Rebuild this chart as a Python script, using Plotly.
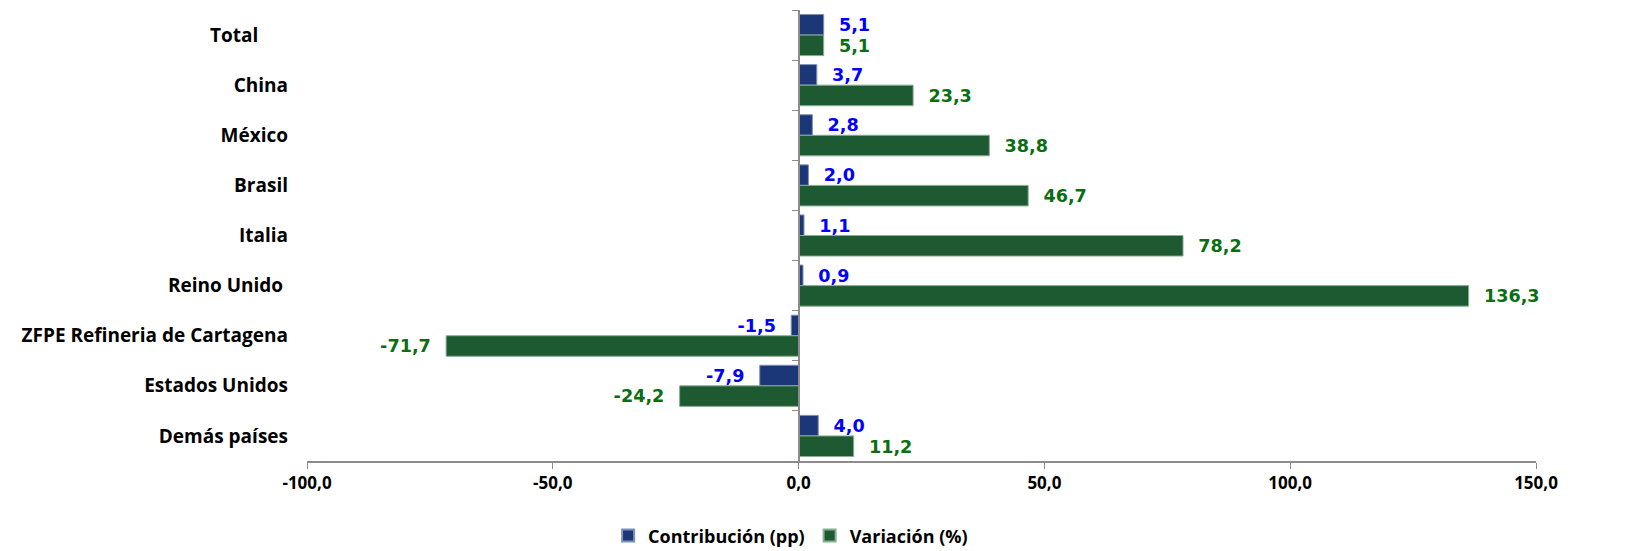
import plotly.graph_objects as go

categories = ["Total", "China", "México", "Brasil", "Italia", "Reino Unido",
              "ZFPE Refineria de Cartagena", "Estados Unidos", "Demás países"]
category_labels = ["Total\u00a0\u00a0\u00a0\u00a0\u00a0\u00a0", "China", "México", "Brasil", "Italia",
                   "Reino Unido\u00a0", "ZFPE Refineria de Cartagena", "Estados Unidos", "Demás países"]
contribucion = [5.1, 3.7, 2.8, 2.0, 1.1, 0.9, -1.5, -7.9, 4.0]
variacion = [5.1, 23.3, 38.8, 46.7, 78.2, 136.3, -71.7, -24.2, 11.2]
x_tickvals = [-100, -50, 0, 50, 100, 150]
x_ticktext = ["-100,0", "-50,0", "0,0", "50,0", "100,0", "150,0"]


def fmt(v):
    return f"{v:.1f}".replace(".", ",")


def lab(v):
    return ("\u00a0\u00a0" + fmt(v)) if v >= 0 else (fmt(v) + "\u00a0\u00a0")


fig = go.Figure()
fig.add_trace(go.Bar(
    name="Contribución (pp)", y=category_labels, x=contribucion, orientation="h",
    marker=dict(color="#1B3778", line=dict(color="#7F8FB8", width=1)),
    text=[lab(v) for v in contribucion], textposition="outside",
    textfont=dict(family="DejaVu Sans", size=18, color="#0000FF", weight="bold"),
    cliponaxis=False,
))
fig.add_trace(go.Bar(
    name="Variación (%)", y=category_labels, x=variacion, orientation="h",
    marker=dict(color="#1D5A32", line=dict(color="#8AAE92", width=1)),
    text=[lab(v) for v in variacion], textposition="outside",
    textfont=dict(family="DejaVu Sans", size=18, color="#0A6E12", weight="bold"),
    cliponaxis=False,
))
# invisible helper trace for the category axis drawn at x = 0
fig.add_trace(go.Scatter(
    x=[0] * len(categories), y=category_labels, yaxis="y2", mode="markers",
    marker=dict(opacity=0), showlegend=False, hoverinfo="skip",
))

fig.update_layout(
    width=1648, height=551,
    margin=dict(l=299, r=120, t=2, b=98, autoexpand=False),
    paper_bgcolor="white", plot_bgcolor="white",
    barmode="group", bargap=0.18, bargroupgap=0.0,
    font=dict(family="Open Sans", size=17, color="black"),
    xaxis=dict(
        range=[-100, 150], tickvals=x_tickvals, ticktext=x_ticktext,
        showgrid=False, zeroline=False, showline=True, linecolor="#8C8C8C", linewidth=1.5,
        ticks="outside", ticklen=6, tickcolor="#8C8C8C",
        tickfont=dict(family="Open Sans", size=17, color="black", weight="bold"),
    ),
    yaxis=dict(
        type="category", categoryarray=category_labels, range=[8.5, -0.5],
        showgrid=False, zeroline=False, showline=False, ticks="",
        tickfont=dict(family="Open Sans", size=19, color="black", weight="bold"),
        ticklabelstandoff=18,
    ),
    yaxis2=dict(
        type="category", categoryarray=category_labels, range=[8.5, -0.5],
        overlaying="y", anchor="free", position=0.4, side="left",
        showgrid=False, zeroline=False, showline=True, linecolor="#8C8C8C", linewidth=1.5,
        ticks="outside", tickson="boundaries", ticklen=6, tickcolor="#8C8C8C",
        showticklabels=False,
    ),
    legend=dict(
        orientation="h", x=0.245, xanchor="left", y=-0.125, yanchor="top",
        font=dict(family="Open Sans", size=18, color="black", weight="bold"),
        itemsizing="constant", traceorder="normal", tracegroupgap=0,
    ),
    showlegend=True,
)

fig.write_html("out.html")
